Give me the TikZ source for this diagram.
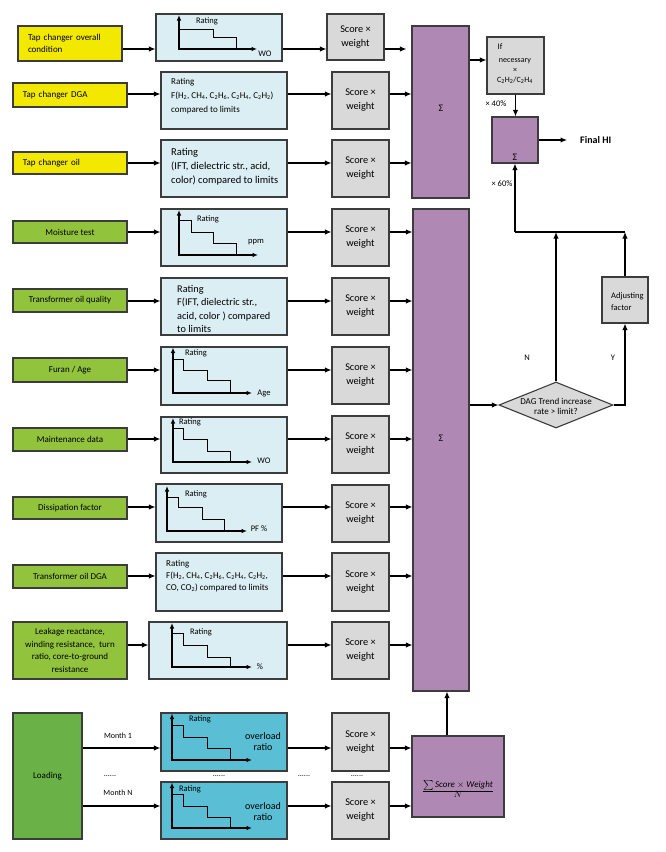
\documentclass[tikz,border=0pt]{standalone}
\usepackage{fontspec}
\setmainfont{Carlito}
\usetikzlibrary{arrows.meta,shapes.geometric}
\definecolor{yel}{RGB}{242,232,0}
\definecolor{grn}{RGB}{146,195,61}
\definecolor{dgrn}{RGB}{106,178,71}
\definecolor{lblue}{RGB}{219,238,244}
\definecolor{cyanb}{RGB}{90,190,212}
\definecolor{gry}{RGB}{217,217,217}
\definecolor{purp}{RGB}{176,136,180}
\definecolor{bdr}{RGB}{60,60,60}
\newcommand\fsz[2]{\fontsize{#1}{#2}\selectfont}
\newcommand\sbs[1]{\textsubscript{#1}}
\begin{document}
\begin{tikzpicture}[x=1pt,y=-1pt,
  base/.style={draw=bdr, line width=1.1pt, rectangle, inner sep=0pt},
  yb/.style={base, fill=yel, align=left, inner xsep=10pt, font=\fsz{9}{12.5}},
  gb/.style={base, fill=grn, align=center, minimum width=114pt, font=\fsz{9}{12.5}},
  lb/.style={base, fill=lblue},
  cb/.style={base, fill=cyanb},
  sc/.style={base, fill=gry, minimum width=57pt, minimum height=57pt, align=center, font=\fsz{10.3}{14}},
  pb/.style={base, fill=purp},
  txt/.style={inner sep=0pt, align=left},
  lbl/.style={inner sep=0pt, font=\fsz{8.5}{10}},
  arr/.style={-{Latex[length=6.5pt,width=5.5pt]}, line width=1.2pt},
  axb/.style={{Latex[length=5.5pt,width=4.5pt]}-{Latex[length=5.5pt,width=4.5pt]}, line width=1.2pt},
  stl/.style={line width=0.9pt}]
\useasboundingbox (0,0) rectangle (666,852);
\fill[white] (0,0) rectangle (666,852);

% ---- input boxes
\node[yb, minimum height=35pt, text width=84pt] (y1) at (70,43.5) {Tap changer overall\\condition};
\node[yb, minimum height=24pt, text width=94pt] (y2) at (70,95) {Tap changer DGA};
\node[yb, minimum height=22pt, text width=94pt] (y3) at (70,163) {Tap changer oil};
\node[gb, minimum height=22pt] (g1) at (70,232) {Moisture test};
\node[gb, minimum height=23pt] (g2) at (70,300.5) {Transformer oil quality};
\node[gb, minimum height=24pt] (g3) at (70,370) {Furan / Age};
\node[gb, minimum height=23pt] (g4) at (70,439.5) {Maintenance data};
\node[gb, minimum height=22pt] (g5) at (70,508) {Dissipation factor};
\node[gb, minimum height=23pt] (g6) at (70,576.5) {Transformer oil DGA};
\node[gb, minimum height=57pt] (g7) at (70,650.5) {Leakage reactance,\\winding resistance,~ turn\\ratio, core-to-ground\\resistance};
\node[base, fill=dgrn, minimum width=69pt, minimum height=126pt, font=\fsz{9}{12}] (g8) at (47.5,776) {Loading};

% ---- rating boxes
\node[lb, minimum width=126pt, minimum height=47pt] (b1) at (219,37.5) {};
\node[lb, minimum width=126pt, minimum height=57pt] (b2) at (224,100.5) {};
\node[lb, minimum width=126pt, minimum height=57pt] (b3) at (224,168.5) {};
\node[lb, minimum width=126pt, minimum height=57pt] (b4) at (224,237.5) {};
\node[lb, minimum width=126pt, minimum height=57pt] (b5) at (224,306.5) {};
\node[lb, minimum width=126pt, minimum height=58pt] (b6) at (224,376) {};
\node[lb, minimum width=126pt, minimum height=56pt] (b7) at (224,445) {};
\node[lb, minimum width=126pt, minimum height=58pt] (b8) at (219,513) {};
\node[lb, minimum width=126pt, minimum height=58pt] (b9) at (219,582) {};
\node[lb, minimum width=138pt, minimum height=57pt] (b10) at (218,650.5) {};
\node[cb, minimum width=126pt, minimum height=58pt] (b11) at (224,742) {};
\node[cb, minimum width=126pt, minimum height=57pt] (b12) at (224,810.5) {};

% texts in rating boxes
\node[txt, anchor=west, font=\fsz{9}{14}] (b2t) at (171,96) {Rating\\F(H\sbs{2}, CH\sbs{4}, C\sbs{2}H\sbs{6}, C\sbs{2}H\sbs{4}, C\sbs{2}H\sbs{2})\\compared to limits};
\node[txt, anchor=west, font=\fsz{10.5}{14}] (b3t) at (171,167) {Rating\\(IFT, dielectric str., acid,\\color) compared to limits};
\node[txt, anchor=west, font=\fsz{10.3}{13.3}] (b5t) at (177,309) {Rating\\F(IFT, dielectric str.,\\acid, color ) compared\\to limits};
\node[txt, anchor=west, font=\fsz{9}{12}] (b9t) at (166,576) {Rating\\F(H\sbs{2}, CH\sbs{4}, C\sbs{2}H\sbs{6}, C\sbs{2}H\sbs{4}, C\sbs{2}H\sbs{2},\\CO, CO\sbs{2}) compared to limits};

% charts
\draw[axb] (179,15) -- (179,49) -- (257,49);
\draw[stl] (179,29) -- (213,29) -- (213,37) -- (236,37) -- (236,49);
\node[lbl] (c1r) at (207,21) {Rating};
\node[lbl] (c1x) at (265,54) {WO};

\draw[axb] (179,210) -- (179,255) -- (258,255);
\draw[stl] (179,220) -- (191,220) -- (191,232) -- (213,232) -- (213,243) -- (236,243) -- (236,255);
\node[lbl] (c4r) at (208,219) {Rating};
\node[lbl] (c4x) at (256,242) {ppm};

\draw[axb] (173,347.5) -- (173,393) -- (252,393);
\draw[stl] (173,359) -- (183,359) -- (183,370) -- (207,370) -- (207,380) -- (230,380) -- (230,393);
\node[lbl] (c6r) at (196,353) {Rating};
\node[lbl] (c6x) at (264,393) {Age};

\draw[axb] (173,418) -- (173,462) -- (252,462);
\draw[stl] (173,428) -- (183,428) -- (183,439) -- (207,439) -- (207,451) -- (230,451) -- (230,462);
\node[lbl] (c7r) at (190,422) {Rating};
\node[lbl] (c7x) at (264,461) {WO};

\draw[axb] (167,486) -- (167,531) -- (247,531);
\draw[stl] (167,497) -- (178,497) -- (178,507) -- (202,507) -- (202,519) -- (224,519) -- (224,531);
\node[lbl] (c8r) at (196,494) {Rating};
\node[lbl] (c8x) at (259,529) {PF \%};

\draw[axb] (172,623) -- (172,667) -- (252,667);
\draw[stl] (172,633) -- (183,633) -- (183,645) -- (207,645) -- (207,657) -- (230,657) -- (230,667);
\node[lbl] (c10r) at (201,632) {Rating};
\node[lbl] (c10x) at (260,667) {\%};

\draw[axb] (172,713.5) -- (172,760) -- (252,760);
\draw[stl] (172,725) -- (183,725) -- (183,737) -- (207,737) -- (207,748) -- (230,748) -- (230,760);
\node[lbl] (c11r) at (200,719) {Rating};
\node[txt, align=center, font=\fsz{10}{11}] (c11x) at (263,742) {overload\\ratio};

\draw[axb] (172,782.5) -- (172,828) -- (252,828);
\draw[stl] (172,794) -- (183,794) -- (183,806) -- (207,806) -- (207,817) -- (230,817) -- (230,828);
\node[lbl] (c12r) at (190,789) {Rating};
\node[txt, align=center, font=\fsz{10}{11}] (c12x) at (263,812) {overload\\ratio};

% ---- score boxes
\node[sc, minimum height=46pt] (s1) at (355.5,37) {Score ×\\weight};
\node[sc] (s2) at (360.5,100.5) {Score ×\\weight};
\node[sc] (s3) at (360.5,168.5) {Score ×\\weight};
\node[sc] (s4) at (360.5,237.5) {Score ×\\weight};
\node[sc] (s5) at (360.5,306.5) {Score ×\\weight};
\node[sc] (s6) at (360.5,375.5) {Score ×\\weight};
\node[sc] (s7) at (360.5,444.5) {Score ×\\weight};
\node[sc] (s8) at (360.5,513.5) {Score ×\\weight};
\node[sc, minimum height=58pt] (s9) at (360.5,582) {Score ×\\weight};
\node[sc] (s10) at (360.5,650.5) {Score ×\\weight};
\node[sc, minimum height=58pt] (s11) at (360.5,742) {Score ×\\weight};
\node[sc] (s12) at (360.5,810.5) {Score ×\\weight};

% ---- sum boxes
\node[pb, minimum width=57pt, minimum height=172pt] (p1) at (440.5,112) {};
\node[txt, font=\fsz{10}{12}] (p1s) at (441,108) {Σ};
\node[pb, minimum width=56pt, minimum height=482pt] (p2) at (441,450) {};
\node[txt, font=\fsz{10}{12}] (p2s) at (441,438) {Σ};
\node[pb, minimum width=92pt, minimum height=81pt] (pf) at (458,776.5) {};
\node[txt, font=\fsz{9}{11}] (pft) at (458,789) {$\frac{\textstyle\sum \mathit{Score}\times \mathit{Weight}}{\textstyle N}$};
\node[pb, minimum width=46pt, minimum height=46pt] (ps) at (515,140) {};
\node[txt, font=\fsz{10}{12}] (pss) at (515,157) {Σ};

\node[base, fill=gry, minimum width=57pt, minimum height=57pt] (nec) at (515.5,65.5) {};
\node[txt, font=\fsz{8.5}{10}] (neca) at (500,47) {If};
\node[txt, align=center, font=\fsz{8}{10}] (necb) at (515,71) {necessary\\×\\C\sbs{2}H\sbs{2}/C\sbs{2}H\sbs{4}};

\node[base, fill=gry, minimum width=46pt, minimum height=46pt] (adj) at (625,300) {};
\node[txt, anchor=west, font=\fsz{8.5}{12}] (adjt) at (611,302) {Adjusting\\factor};

\node[diamond, draw=bdr, fill=gry, line width=1.1pt, inner sep=0pt, minimum width=114pt, minimum height=46pt] (dia) at (556,405) {};
\node[txt, align=center, font=\fsz{9}{9.5}] (diat) at (556,406.5) {DAG Trend increase\\rate > limit?};

\node[txt, anchor=west, font=\fsz{10}{12}\bfseries] (fhi) at (580,140) {Final HI};
\node[lbl] (l40) at (496,104) {× 40\%};
\node[lbl] (l60) at (502,184) {× 60\%};
\node[lbl] (ln) at (527,358) {N};
\node[lbl] (ly) at (613,358) {Y};
\node[txt, font=\fsz{8}{10}] (m1) at (118,736) {Month 1};
\node[txt, font=\fsz{8}{10}] (mn) at (118,793) {Month N};
\node[txt, font=\fsz{8}{10}] (d1) at (110,776) {......};
\node[txt, font=\fsz{8}{10}] (d2) at (219,776) {......};
\node[txt, font=\fsz{8}{10}] (d3) at (304,776) {......};
\node[txt, font=\fsz{8}{10}] (d4) at (357,776) {......};

% ---- row connectors
\coordinate (r1) at (0,49);
\coordinate (r2) at (0,94);
\coordinate (r3) at (0,163);
\coordinate (r4) at (0,232);
\coordinate (r5) at (0,301);
\coordinate (r6) at (0,370);
\coordinate (r7) at (0,439);
\coordinate (r8) at (0,507);
\coordinate (r9) at (0,576);
\coordinate (r10) at (0,645);
\coordinate (r11) at (0,748);
\coordinate (r12) at (0,806);
\draw[arr] (y1.east |- r1) -- (b1.west |- r1);
\draw[arr] (b1.east |- r1) -- (s1.west |- r1);
\draw[arr, shorten >=5pt] (s1.east |- r1) -- (p1.west |- r1);
\foreach \a/\b/\c/\d/\r in {y2/b2/s2/p1/r2, y3/b3/s3/p1/r3, g1/b4/s4/p2/r4, g2/b5/s5/p2/r5, g3/b6/s6/p2/r6, g4/b7/s7/p2/r7, g5/b8/s8/p2/r8, g6/b9/s9/p2/r9, g7/b10/s10/p2/r10, g8/b11/s11/pf/r11, g8/b12/s12/pf/r12}{
  \draw[arr] (\a.east |- \r) -- (\b.west |- \r);
  \draw[arr] (\b.east |- \r) -- (\c.west |- \r);
  \draw[arr] (\c.east |- \r) -- (\d.west |- \r);
}

% ---- right side connectors
\coordinate (r0) at (0,60);
\coordinate (cx) at (447,0);
\coordinate (jn) at (0,232);
\draw[arr] (p1.east |- r0) -- (nec.west |- r0);
\draw[arr] (nec.south) -- (nec.south |- ps.north);
\draw[arr, shorten >=13pt] (ps.east) -- (fhi.west);
\draw[arr] (pf.north -| cx) -- (p2.south -| cx);
\draw[arr] (p2.east |- dia.west) -- (dia.west);
\draw[arr] (dia.north) -- (dia.north |- jn);
\draw[arr] (dia.east) -| (adj.south);
\draw[arr] (adj.north) -- (adj.north |- jn);
\draw[line width=1.2pt] (ps.south |- jn) -- (adj.north |- jn);
\draw[arr] (ps.south |- jn) -- (ps.south);
\end{tikzpicture}
\end{document}
